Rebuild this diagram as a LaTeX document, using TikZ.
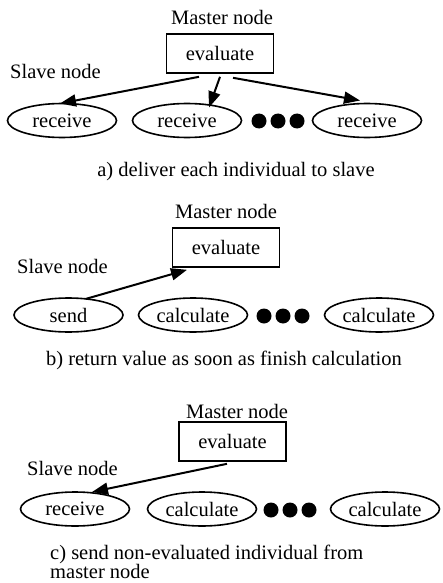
\documentclass[tikz,border=0pt]{standalone}
\usepackage{fontspec}
\setmainfont{Liberation Serif}
\usetikzlibrary{shapes.geometric,arrows.meta}
\begin{document}
\begin{tikzpicture}[x=1pt,y=-1pt,
  every node/.style={font=\fontsize{20.5}{22}\selectfont, inner sep=0pt},
  lbl/.style={anchor=base},
  lbll/.style={anchor=base west},
  evalbox/.style={draw, line width=1.6pt, rectangle, minimum width=107pt, minimum height=39pt},
  oval/.style={draw, line width=1.6pt, ellipse, minimum width=109pt, minimum height=34pt},
  dot/.style={fill=black, circle, minimum size=15pt},
  arr/.style={line width=2pt, -{Triangle[length=16pt,width=12pt]}}
]
\useasboundingbox (0,0) rectangle (443,583);

% ---------- panel a ----------
\node[lbl] (ma) at (222,25) {Master node};
\node[evalbox] (eva) at (220,53.5) {evaluate};
\node[lbll] (sa) at (10,79) {Slave node};
\node[oval] (ra1) at (62,120.5) {receive};
\node[oval] (ra2) at (187,120.5) {receive};
\node[dot] (da1) at (259,121) {};
\node[dot] (da2) at (278,121) {};
\node[dot] (da3) at (297,121) {};
\node[oval] (ra3) at (367,120.5) {receive};
\draw[arr] ([shift={(-21,3)}]eva.south) -- ([shift={(-2,-17)}]ra1.center);
\draw[arr] ([shift={(0,3)}]eva.south) -- ([shift={(22,-13)}]ra2.center);
\draw[arr] ([shift={(13,4)}]eva.south) -- ([shift={(-7,-20)}]ra3.center);
\node[lbl] (ca) at (236,176) {a) deliver each individual to slave};

% ---------- panel b ----------
\node[lbl] (mb) at (226,218) {Master node};
\node[evalbox] (evb) at (226,247.5) {evaluate};
\node[lbll] (sb) at (17,273) {Slave node};
\node[oval] (rb1) at (68.5,315) {send};
\node[oval] (rb2) at (193,315) {calculate};
\node[dot] (db1) at (264,316) {};
\node[dot] (db2) at (283,316) {};
\node[dot] (db3) at (302,316) {};
\node[oval] (rb3) at (379,315) {calculate};
\draw[arr] ([shift={(17,-16)}]rb1.center) -- ([shift={(-39,2)}]evb.south);
\node[lbl] (cb) at (224,365) {b) return value as soon as finish calculation};

% ---------- panel c ----------
\node[lbl] (mc) at (237,418) {Master node};
\node[evalbox] (evc) at (232.5,441.5) {evaluate};
\node[lbll] (sc) at (27,475) {Slave node};
\node[oval] (rc1) at (75,509) {receive};
\node[oval] (rc2) at (202,509) {calculate};
\node[dot] (dc1) at (271,510) {};
\node[dot] (dc2) at (290,510) {};
\node[dot] (dc3) at (309,510) {};
\node[oval] (rc3) at (385,509) {calculate};
\draw[arr] ([shift={(-5.5,2)}]evc.south) -- ([shift={(17,-17)}]rc1.center);
\node[lbll] (cc1) at (50,559) {c) send non-evaluated individual from};
\node[lbll] (cc2) at (50,578) {master node};
\end{tikzpicture}
\end{document}
